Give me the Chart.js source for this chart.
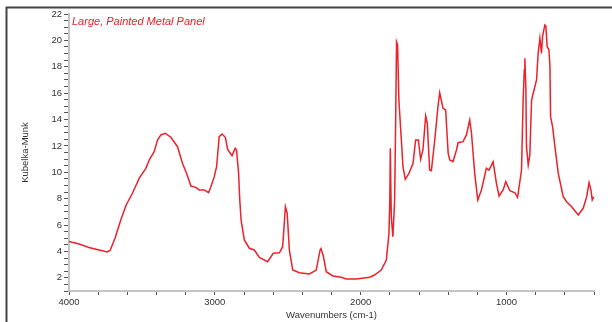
<!DOCTYPE html>
<html>
<head>
<meta charset="utf-8">
<script src="https://cdn.jsdelivr.net/npm/chart.js@4/dist/chart.umd.min.js"></script>
<style>
  html, body { margin: 0; padding: 0; background: #fff; }
  #wrap { width: 612px; height: 322px; position: relative; }
</style>
</head>
<body>
<div id="wrap"><canvas id="spectrum"></canvas></div>
<script>
// espectro (cm-1 / Kubelka-Munk)
const wavenumbers = [
  4000, 3931, 3863, 3794, 3739, 3718, 3684, 3645, 3608, 3565,
  3519, 3473, 3450, 3416, 3393, 3370, 3340, 3301, 3256, 3222,
  3194, 3164, 3130, 3107, 3073, 3043, 3027, 3004, 2988, 2970,
  2951, 2928, 2912, 2882, 2860, 2851, 2837, 2829, 2820, 2798,
  2763, 2729, 2695, 2638, 2599, 2557, 2535, 2516, 2504, 2489,
  2466, 2420, 2351, 2305, 2278, 2272, 2255, 2236, 2191, 2133,
  2099, 2030, 1939, 1905, 1859, 1824, 1806, 1800, 1797, 1790,
  1779, 1767, 1760, 1754, 1747, 1738, 1721, 1710, 1694, 1669,
  1641, 1623, 1604, 1589, 1573, 1554, 1543, 1527, 1515, 1492,
  1470, 1458, 1435, 1417, 1408, 1400, 1389, 1367, 1343, 1332,
  1298, 1275, 1252, 1240, 1218, 1197, 1172, 1138, 1120, 1092,
  1069, 1051, 1023, 1005, 977, 943, 924, 897, 886, 878,
  874, 867, 863, 851, 840, 828, 817, 794, 783, 771,
  760, 753, 737, 730, 721, 709, 702, 698, 684, 668,
  645, 611, 588, 553, 508, 474, 450, 434, 421, 412, 400
];
const kubelkaMunk = [
  4.75, 4.56, 4.30, 4.11, 3.96, 4.07, 5.02, 6.38, 7.52, 8.41,
  9.54, 10.30, 10.93, 11.56, 12.45, 12.83, 12.96, 12.65, 11.94, 10.68,
  9.92, 8.96, 8.86, 8.66, 8.66, 8.45, 8.91, 9.67, 10.42, 12.70,
  12.90, 12.65, 11.74, 11.26, 11.82, 11.69, 9.92, 7.90, 6.38, 4.87,
  4.24, 4.11, 3.55, 3.22, 3.86, 3.90, 4.36, 7.39, 6.91, 4.11,
  2.59, 2.39, 2.29, 2.59, 4.11, 4.22, 3.60, 2.46, 2.14, 2.04,
  1.91, 1.91, 2.04, 2.21, 2.59, 3.35, 5.37, 7.90, 11.82, 6.63,
  5.12, 7.90, 13.96, 19.88, 19.65, 15.48, 12.45, 10.42, 9.47, 9.92,
  10.68, 12.45, 12.45, 10.98, 11.69, 14.27, 13.71, 10.17, 10.12, 12.45,
  14.97, 16.03, 14.85, 14.72, 12.96, 11.44, 10.93, 10.80, 11.69, 12.24,
  12.32, 12.83, 13.96, 12.96, 9.92, 7.90, 8.66, 10.30, 10.17, 10.80,
  9.16, 8.20, 8.66, 9.29, 8.60, 8.45, 8.10, 10.17, 15.48, 17.76,
  18.64, 16.24, 11.94, 10.55, 11.31, 15.48, 15.99, 17.00, 19.02, 20.16,
  19.02, 20.28, 21.17, 21.09, 19.52, 19.27, 18.00, 14.21, 13.46, 11.94,
  9.92, 8.15, 7.77, 7.39, 6.76, 7.27, 8.15, 9.21, 8.66, 7.90, 8.15
];
const xLabels = [4000, 3000, 2000, 1000];
const yLabels = [2, 4, 6, 8, 10, 12, 14, 16, 18, 20, 22];

const FONTE = "'Liberation Sans', Arial, sans-serif";
const VERMELHO = '#ec2129';

// moldura + título dentro da área do gráfico
const molduraPlugin = {
  id: 'moldura',
  afterDraw(chart) {
    const ctx = chart.ctx;
    const area = chart.chartArea;
    ctx.save();
    ctx.strokeStyle = '#454545';
    ctx.lineWidth = 2;
    ctx.beginPath();
    ctx.moveTo(6.5, 322);
    ctx.lineTo(6.5, 7.5);
    ctx.lineTo(612, 7.5);
    ctx.stroke();

    ctx.fillStyle = VERMELHO;
    ctx.font = "italic 11px " + FONTE;
    ctx.textBaseline = 'middle';
    ctx.textAlign = 'left';
    ctx.fillText('Large, Painted Metal Panel', area.left + 3, 22);
    ctx.restore();
  }
};

const pontos = wavenumbers.map((w, i) => ({ x: w, y: kubelkaMunk[i] }));

new Chart(document.getElementById('spectrum').getContext('2d'), {
  type: 'line',
  data: {
    datasets: [{
      label: 'Large, Painted Metal Panel',
      data: pontos,
      borderColor: VERMELHO,
      borderWidth: 1.5,
      pointRadius: 0,
      tension: 0,
      fill: false
    }]
  },
  options: {
    responsive: true,
    maintainAspectRatio: false,
    animation: false,
    layout: { padding: { left: 0, right: 18, top: 14, bottom: 0 } },
    plugins: {
      legend: { display: false },
      tooltip: { enabled: false }
    },
    scales: {
      x: {
        type: 'linear',
        reverse: true,
        min: 400,
        max: 4000,
        afterFit: (s) => { s.height = 31; },
        border: { color: '#c4c4c4', width: 2 },
        grid: { drawOnChartArea: false, color: '#555', tickLength: 4 },
        ticks: {
          stepSize: 200,
          autoSkip: false,
          maxRotation: 0,
          padding: 2,
          color: '#333',
          font: { family: FONTE, size: 9.5 },
          callback: (v) => xLabels.includes(v) ? String(v) : ''
        },
        title: {
          display: true,
          text: 'Wavenumbers (cm-1)',
          color: '#333',
          font: { family: FONTE, size: 9.5 },
          padding: { top: 0, bottom: 1 }
        }
      },
      y: {
        min: 1,
        max: 22,
        afterFit: (s) => { s.width = 69; },
        border: { color: '#c4c4c4', width: 2 },
        grid: { drawOnChartArea: false, color: '#555', tickLength: 5 },
        ticks: {
          stepSize: 0.5,
          autoSkip: false,
          padding: 2,
          color: '#333',
          font: { family: FONTE, size: 9.5 },
          callback: (v) => yLabels.includes(v) ? String(v) : ''
        },
        title: {
          display: true,
          text: 'Kubelka-Munk',
          color: '#333',
          font: { family: FONTE, size: 9.5 },
          padding: { top: 20, bottom: 0 }
        }
      }
    }
  },
  plugins: [molduraPlugin]
});
</script>
</body>
</html>
